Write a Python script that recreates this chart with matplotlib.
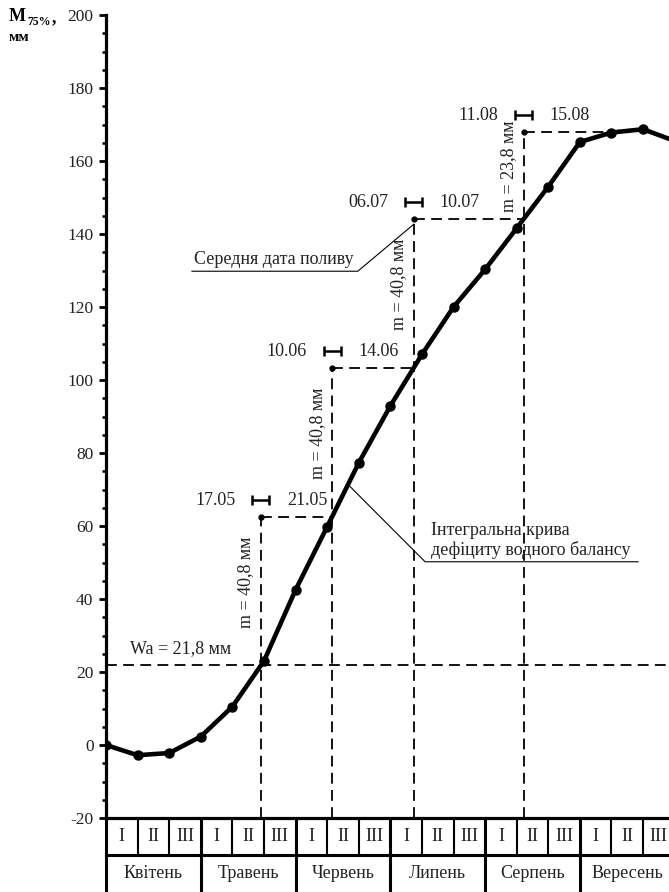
import numpy as np
import matplotlib.pyplot as plt
from matplotlib.ticker import MultipleLocator

plt.rcParams['font.family'] = ['Liberation Serif', 'DejaVu Serif']
plt.rcParams['axes.unicode_minus'] = False

# integral curve of water balance deficit, value at the end of each decade
decade_x = np.arange(19)
M75 = [0, -2.8, -2.2, 2.3, 10.5, 23.0, 42.5, 59.8, 77.3, 92.9,
       107.0, 120.0, 130.3, 141.6, 153.0, 165.2, 167.8, 168.7, 165.5]

decades = ['I', 'II', 'III'] * 6
months = ['Квітень', 'Травень', 'Червень', 'Липень', 'Серпень', 'Вересень']

Wa = 21.8
m_norm = [40.8, 40.8, 40.8, 23.8]
date_from = ['17.05', '10.06', '06.07', '11.08']
date_to = ['21.05', '14.06', '10.07', '15.08']

levels = Wa + np.cumsum(m_norm)
starts = np.concatenate([[Wa], levels[:-1]])
# rising part of the curve for finding intersections
xr = decade_x[2:18]
yr = np.array(M75[2:18])
x_ev = np.interp(starts, yr, xr)
x_end = np.interp(levels, yr, xr)

fs = 13

fig = plt.figure(figsize=(6.69, 8.92), dpi=100)
ax = fig.add_axes([106 / 669, 1 - 818 / 892, 563 / 669, 803 / 892])
ax.set_xlim(0, 17.82)
ax.set_ylim(-20, 200)

dash = dict(color='black', lw=1.3, dashes=(6, 3.5))
ax.axhline(Wa, **dash)
for i in range(len(m_norm)):
    ax.plot([x_ev[i], x_ev[i]], [-20, levels[i]], **dash)
    ax.plot([x_ev[i], x_end[i]], [levels[i], levels[i]], **dash)
    ax.plot(x_ev[i], levels[i], 'o', color='black', ms=3.5, zorder=5)
    ax.errorbar(x_ev[i], levels[i] + 4.5, xerr=0.27, fmt='none', ecolor='black',
                elinewidth=1.8, capsize=3.5, capthick=1.8)
    ax.text(x_ev[i] - 0.8, levels[i] + 4.5, date_from[i], ha='right', va='center',
            fontsize=fs, color='#222222')
    ax.text(x_ev[i] + 0.82, levels[i] + 4.5, date_to[i], ha='left', va='center',
            fontsize=fs, color='#222222')
    lab = 'm = ' + f'{m_norm[i]:.1f}'.replace('.', ',') + ' мм'
    ax.text(x_ev[i] - 0.47, (starts[i] + levels[i]) / 2 + 2.5, lab, rotation=90,
            ha='center', va='center', fontsize=fs, color='#222222')

ax.plot(decade_x, M75, color='black', lw=3.3, marker='o', ms=6.5, zorder=6,
        solid_capstyle='round')

ax.text(0.75, Wa + 4.6, 'Wa = ' + f'{Wa:.1f}'.replace('.', ',') + ' мм',
        ha='left', va='center', fontsize=fs, color='#222222')

# leader: mean irrigation date
ax.text(2.8, 130.8, 'Середня дата поливу', ha='left', va='bottom', fontsize=fs,
        color='#222222')
ax.plot([2.72, 7.97, x_ev[2]], [129.8, 129.8, levels[2] - 1.5], color='black', lw=0.8)

# leader: integral curve
xc = 7.63
ax.text(10.3, 51.0, 'Інтегральна крива\nдефіциту водного балансу', ha='left',
        va='bottom', fontsize=fs, linespacing=1.15, color='#222222')
ax.plot([xc, 10.1, 16.84], [np.interp(xc, decade_x, M75) + 0.8, 50.2, 50.2],
        color='black', lw=0.8)

# axes styling
for s in ['top', 'right']:
    ax.spines[s].set_visible(False)
ax.spines['left'].set_linewidth(2.3)
ax.spines['bottom'].set_linewidth(2.3)
ax.set_xticks([])
ax.yaxis.set_major_locator(MultipleLocator(20))
ax.yaxis.set_minor_locator(MultipleLocator(5))
ax.tick_params(axis='y', which='major', length=5, width=2, labelsize=12.5, pad=4,
               labelcolor='#222222')
ax.tick_params(axis='y', which='minor', length=3, width=1.8)

# decade / month table under the axis
tb = dict(color='black', clip_on=False, solid_capstyle='butt')
ax.plot([0, 18], [-30, -30], lw=2.2, **tb)
for k in range(19):
    if k % 3 == 0:
        ax.plot([k, k], [-20, -41], lw=2.2, **tb)
    else:
        ax.plot([k, k], [-20, -30], lw=1.5, **tb)
for k, d in enumerate(decades):
    ax.text(k + 0.5, -25.1, d, ha='center', va='center', fontsize=fs, clip_on=False,
            color='#222222')
for k, mo in enumerate(months):
    ax.text(3 * k + 1.5, -35.2, mo, ha='center', va='center', fontsize=fs, clip_on=False,
            color='#222222')

# y label
fig.text(9 / 669, 1 - 21 / 892, 'M', fontsize=13, weight='bold')
fig.text(27 / 669, 1 - 25 / 892, '75%', fontsize=8.5, weight='bold')
fig.text(52 / 669, 1 - 22 / 892, ',', fontsize=13, weight='bold')
fig.text(9 / 669, 1 - 41 / 892, 'мм', fontsize=11, weight='bold')

fig.savefig('out.png', dpi=100)
